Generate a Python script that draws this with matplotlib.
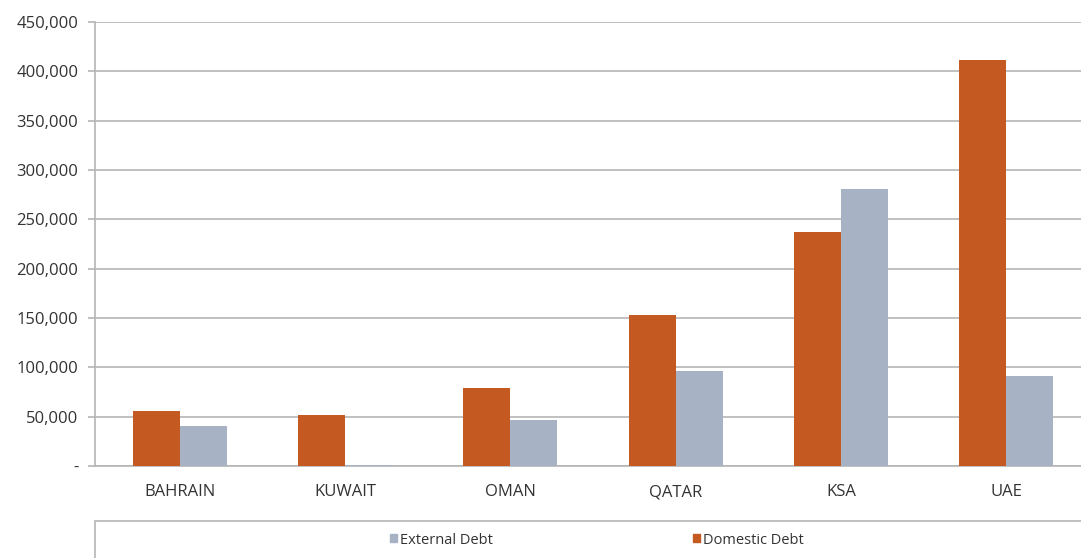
import matplotlib.pyplot as plt
import matplotlib.patches as mpatches
import numpy as np
from matplotlib.ticker import FuncFormatter

plt.rcParams['font.family'] = ['Open Sans', 'DejaVu Sans']

# --- data ---
countries = ["BAHRAIN", "KUWAIT", "OMAN", "QATAR", "KSA", "UAE"]
domestic_debt = [56000, 52000, 79000, 153000, 237000, 411000]
external_debt = [40500, 1000, 47000, 96000, 281000, 91000]

DOMESTIC = "#C45A22"
EXTERNAL = "#A8B2C5"
GRID = "#B5B5B5"
TEXT = "#333333"

fig = plt.figure(figsize=(10.81, 5.58), dpi=100)
ax = fig.add_axes([95 / 1081, 92 / 558, 992 / 1081, 444 / 558])

x = np.arange(len(countries))
w = 0.285
ax.bar(x - w / 2, domestic_debt, w, color=DOMESTIC, zorder=3)
ax.bar(x + w / 2, external_debt, w, color=EXTERNAL, zorder=3)

ax.set_xlim(-0.512, len(countries) - 0.512)
ax.set_ylim(0, 450000)
ax.set_yticks(np.arange(0, 450001, 50000))
ax.yaxis.set_major_formatter(FuncFormatter(lambda v, p: "-" if v == 0 else f"{int(v):,}"))
ax.set_xticks(x)
ax.set_xticklabels(countries)

ax.grid(axis="y", color=GRID, linewidth=1.2, zorder=0)
for s in ["top", "right"]:
    ax.spines[s].set_visible(False)
ax.spines["left"].set_color(GRID)
ax.spines["bottom"].set_color(GRID)
ax.spines["left"].set_linewidth(1.2)
ax.spines["bottom"].set_linewidth(1.2)
ax.tick_params(axis="y", colors=GRID, labelcolor=TEXT, labelsize=12, length=5, width=1.2, pad=7)
ax.tick_params(axis="x", length=0, labelcolor=TEXT, labelsize=12, pad=13)

# --- legend box ---
box = mpatches.Rectangle((95 / 1081, -0.1), 1.0, (558 - 521) / 558 + 0.1,
                         transform=fig.transFigure, fill=False,
                         edgecolor=GRID, linewidth=1.2)
fig.add_artist(box)

handles = [mpatches.Patch(color=EXTERNAL, label="External Debt"),
           mpatches.Patch(color=DOMESTIC, label="Domestic Debt")]
fig.legend(handles=handles, loc="center left", bbox_to_anchor=(377 / 1081, 18 / 558),
           ncol=2, frameon=False, fontsize=10.5, handlelength=0.5, handleheight=0.5,
           handletextpad=0.2, columnspacing=13.7, labelcolor=TEXT)

plt.savefig("out.png", dpi=100)
plt.close()
